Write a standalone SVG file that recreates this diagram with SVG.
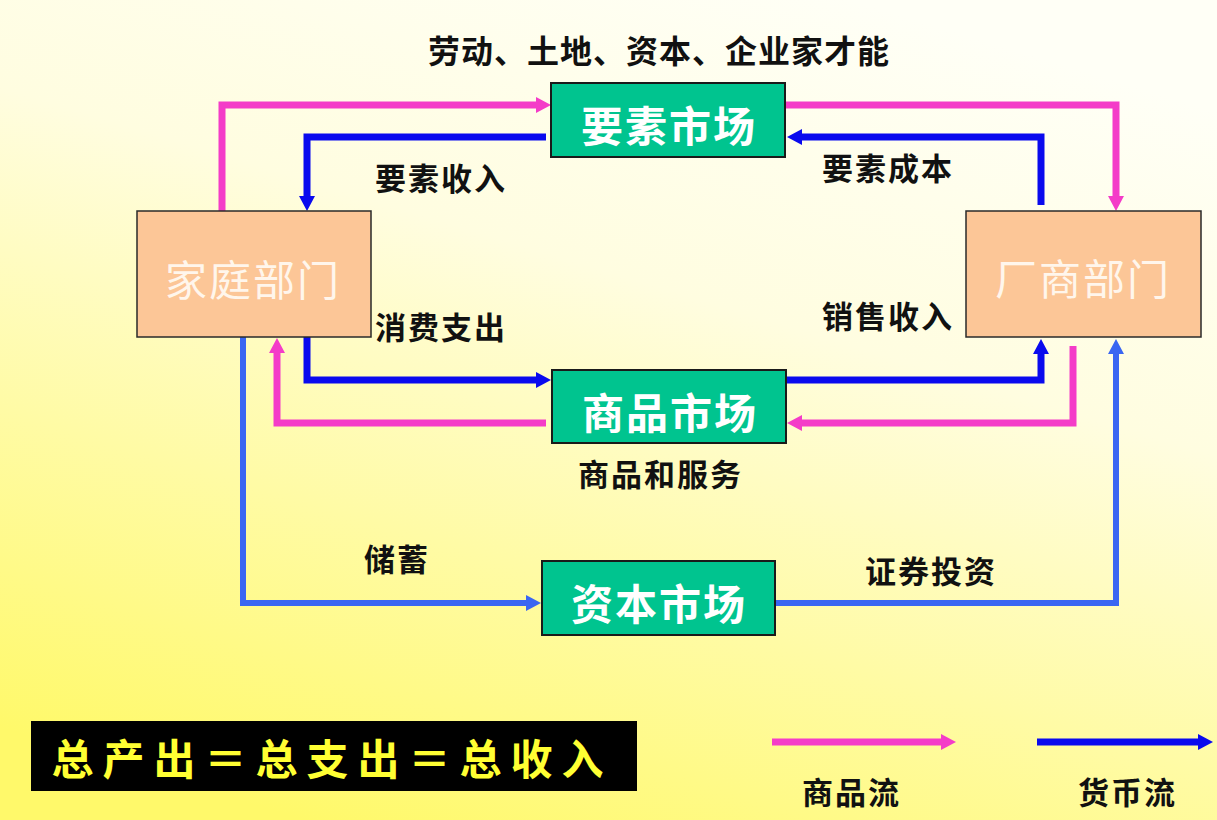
<svg xmlns="http://www.w3.org/2000/svg" width="1217" height="820" viewBox="0 0 1217 820">
<defs>
<linearGradient id="bg" x1="0.7" y1="0" x2="0.25" y2="1">
<stop offset="0" stop-color="#FFFFF6"/>
<stop offset="0.35" stop-color="#FFFDE0"/>
<stop offset="1" stop-color="#FFF96A"/>
</linearGradient>
<marker id="ap" markerUnits="userSpaceOnUse" markerWidth="16" markerHeight="18" refX="0" refY="8" orient="auto"><path d="M0,0 L15,8 L0,16 z" fill="#F43CC8"/></marker>
<marker id="ab" markerUnits="userSpaceOnUse" markerWidth="16" markerHeight="18" refX="0" refY="8" orient="auto"><path d="M0,0 L15,8 L0,16 z" fill="#0A0AEE"/></marker>
<marker id="al" markerUnits="userSpaceOnUse" markerWidth="16" markerHeight="18" refX="0" refY="8" orient="auto"><path d="M0,0 L15,8 L0,16 z" fill="#3A66F2"/></marker>
</defs>
<style>
.pk{fill:none;stroke:#F43CC8;stroke-width:7;marker-end:url(#ap)}
.bl{fill:none;stroke:#0A0AEE;stroke-width:7;marker-end:url(#ab)}
.lb{fill:none;stroke:#3A66F2;stroke-width:6;marker-end:url(#al)}
.mk{fill:#00C48F;stroke:#1a1a1a;stroke-width:2}
.dp{fill:#FCC697;stroke:#2a2a2a;stroke-width:1.5}
.mt{font-family:"Noto Sans CJK SC","Noto Sans",sans-serif;font-size:42px;font-weight:bold;fill:#FFFFFF;text-anchor:middle;dominant-baseline:central;letter-spacing:2px}
.dt{font-family:"Noto Sans CJK SC","Noto Sans",sans-serif;font-size:42px;font-weight:normal;fill:#FFF6EC;text-anchor:middle;dominant-baseline:central;letter-spacing:2px}
.lbl{font-family:"Noto Sans CJK SC","Noto Sans",sans-serif;font-size:31px;font-weight:bold;fill:#111;dominant-baseline:central;letter-spacing:2px}
</style>
<rect x="0" y="0" width="1217" height="820" fill="url(#bg)"/>

<g id="connectors">
<path class="pk" d="M222,213 V105 H536"/>
<path class="bl" d="M546,137 H307 V196"/>
<path class="pk" d="M785,105 H1116 V196"/>
<path class="bl" d="M1041,205 V137 H802"/>
<path class="bl" d="M307,335 V380 H536"/>
<path class="pk" d="M546,423 H277 V353"/>
<path class="bl" d="M785,380 H1041 V354"/>
<path class="pk" d="M1073,346 V423 H802"/>
<path class="lb" d="M243,335 V603 H526"/>
<path class="lb" d="M775,603 H1116 V354"/>
</g>

<g id="factor-market">
<rect class="mk" x="551" y="83" width="234" height="74"/>
<text class="mt" x="669" y="123">要素市场</text>
</g>
<g id="goods-market">
<rect class="mk" x="552" y="370" width="234" height="73"/>
<text class="mt" x="670" y="410">商品市场</text>
</g>
<g id="capital-market">
<rect class="mk" x="542" y="561" width="233" height="74"/>
<text class="mt" x="659" y="601">资本市场</text>
</g>
<g id="households">
<rect class="dp" x="137" y="211" width="234" height="126"/>
<text class="dt" x="253" y="277">家庭部门</text>
</g>
<g id="firms">
<rect class="dp" x="966" y="211" width="235" height="126"/>
<text class="dt" x="1083" y="276">厂商部门</text>
</g>

<g id="labels">
<text class="lbl" x="428" y="49" style="font-size:32px;letter-spacing:1px">劳动、土地、资本、企业家才能</text>
<text class="lbl" x="375" y="176">要素收入</text>
<text class="lbl" x="375" y="325">消费支出</text>
<text class="lbl" x="822" y="166">要素成本</text>
<text class="lbl" x="822" y="314">销售收入</text>
<text class="lbl" x="578" y="472">商品和服务</text>
<text class="lbl" x="364" y="557">储蓄</text>
<text class="lbl" x="865" y="569">证券投资</text>
</g>

<g id="equation">
<rect x="31" y="721" width="606" height="70" fill="#000"/>
<text x="332" y="756" style="font-family:'Noto Sans CJK SC','Noto Sans',sans-serif;font-size:42px;font-weight:bold;fill:#FFFF33;text-anchor:middle;dominant-baseline:central;letter-spacing:9px">总产出＝总支出＝总收入</text>
</g>

<g id="legend">
<path class="pk" d="M772,742 H941"/>
<path class="bl" d="M1037,742 H1198"/>
<text class="lbl" x="802" y="790">商品流</text>
<text class="lbl" x="1078" y="790">货币流</text>
</g>
</svg>
